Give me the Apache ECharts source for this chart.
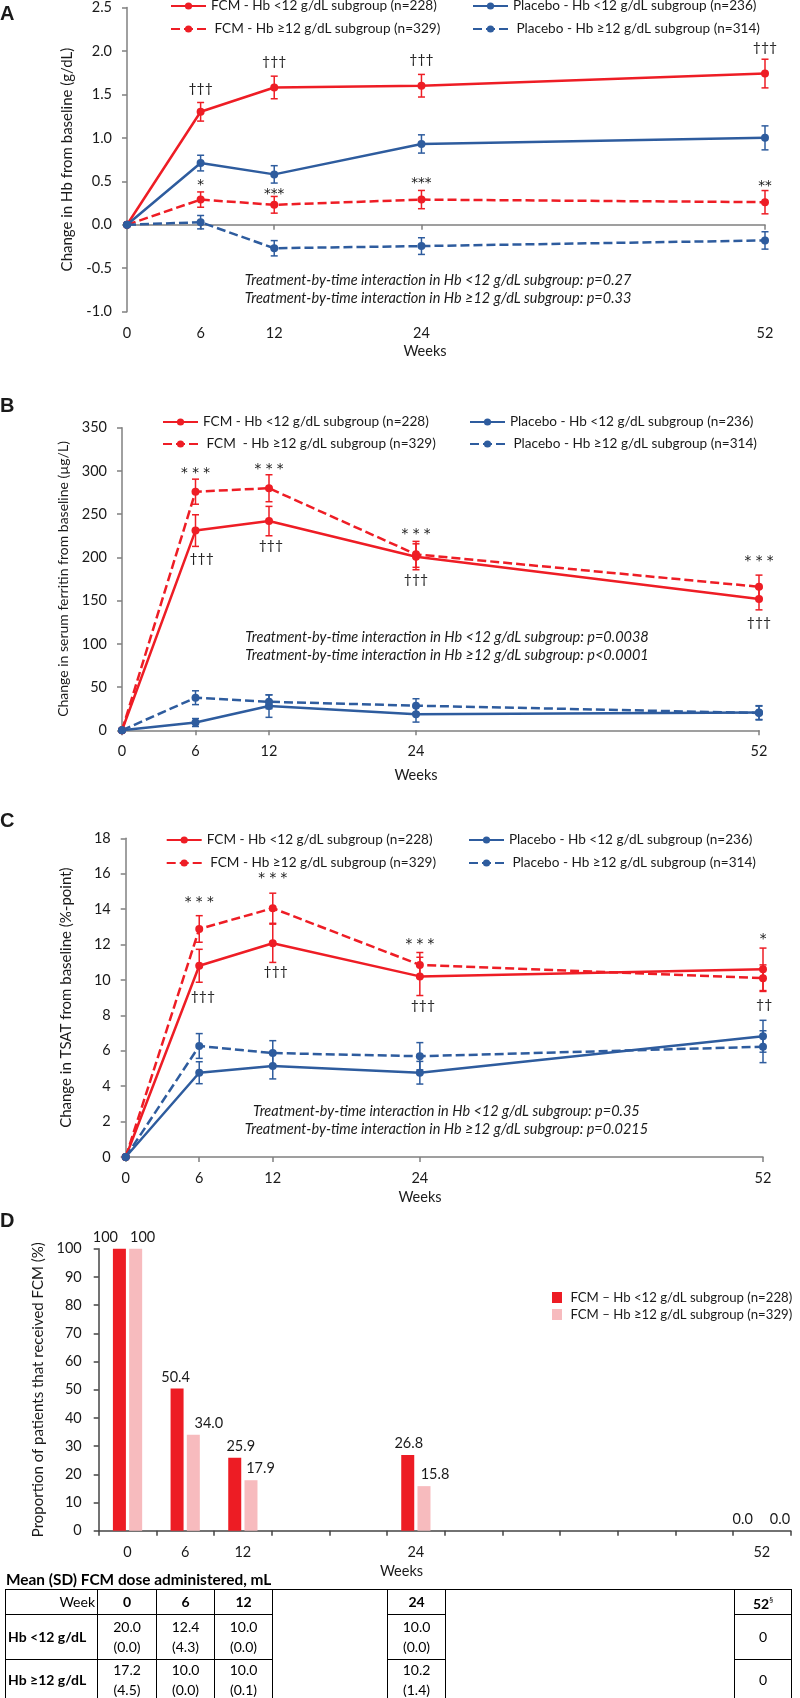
<!DOCTYPE html>
<html><head><meta charset="utf-8">
<script src="https://cdn.jsdelivr.net/npm/echarts@6/dist/echarts.min.js"></script>
<style>
html,body{margin:0;padding:0;background:#fff;}
#wrap{position:relative;width:800px;height:1698px;overflow:hidden;}
#chart{position:absolute;left:0;top:0;width:800px;height:1698px;}
#dosetitle{position:absolute;left:6px;top:1570px;font-weight:bold;font-family:Lato;font-size:14.5px;color:#000;white-space:nowrap;}
#tbl{position:absolute;left:5px;top:1589px;border-collapse:collapse;table-layout:fixed;font-family:Lato;font-size:14px;color:#000;}
#tbl td{border:1.5px solid #000;text-align:center;padding:0;line-height:20px;vertical-align:middle;}
#tbl td.b{font-weight:bold;}
#tbl td.r{text-align:right;padding-right:2px;}
#tbl td.l{text-align:left;padding-left:2px;font-weight:bold;}
#tbl sup{font-size:8px;font-weight:normal;vertical-align:super;}
</style></head><body>
<div id="wrap"><div id="chart"></div>
<div id="dosetitle">Mean (SD) FCM dose administered, mL</div>
<table id="tbl"></table></div>
<script>
// ---------- data ----------
const weeks = [0, 6, 12, 24, 52];

// Panel A: change in Hb (g/dL)
const A_fcmLow   = [0, 1.30, 1.58, 1.60, 1.74];
const A_fcmLowE  = [0, 0.107, 0.13, 0.13, 0.165];
const A_fcmHigh  = [0, 0.29, 0.23, 0.29, 0.26];
const A_fcmHighE = [0, 0.088, 0.096, 0.105, 0.134];
const A_pboLow   = [0, 0.71, 0.58, 0.93, 1.00];
const A_pboLowE  = [0, 0.09, 0.10, 0.105, 0.138];
const A_pboHigh  = [0, 0.03, -0.27, -0.245, -0.18];
const A_pboHighE = [0, 0.077, 0.088, 0.096, 0.10];

// Panel B: change in serum ferritin (µg/L)
const B_fcmLow   = [0, 231, 242, 200.7, 152];
const B_fcmLowE  = [0, 18.3, 17, 15, 12.7];
const B_fcmHigh  = [0, 276, 280, 203.5, 166];
const B_fcmHighE = [0, 14.5, 15.6, 15, 13.5];
const B_pboLow   = [0, 9, 28, 18.5, 20.5];
const B_pboLowE  = [0, 4.6, 13, 9, 8];
const B_pboHigh  = [0, 37.7, 33, 28.5, 20];
const B_pboHighE = [0, 8, 8, 8, 8];

// Panel C: change in TSAT (%-point)
const C_fcmLow   = [0, 10.8, 12.07, 10.2, 10.6];
const C_fcmLowE  = [0, 0.93, 1.08, 1.08, 1.2];
const C_fcmHigh  = [0, 12.88, 14.05, 10.85, 10.1];
const C_fcmHighE = [0, 0.75, 0.85, 0.7, 0.75];
const C_pboLow   = [0, 4.76, 5.14, 4.76, 6.82];
const C_pboLowE  = [0, 0.62, 0.73, 0.64, 0.9];
const C_pboHigh  = [0, 6.27, 5.87, 5.69, 6.23];
const C_pboHighE = [0, 0.7, 0.7, 0.77, 0.9];

// significance marks: [week, y position (data units), text]
const sigA = [[6,1.565,'†††'],[12,1.876,'†††'],[24,1.90,'†††'],[52,2.04,'†††'],
              [6,0.45,'*'],[12,0.345,'***'],[24,0.48,'***'],[52,0.44,'**']];
const sigB = [[6,297.5,'* * *'],[12,302,'* * *'],[24,227,'* * *'],[52,195,'* * *'],
              [6.5,199.2,'†††'],[12.15,214,'†††'],[24,175,'†††'],[52,124.4,'†††']];
const sigC = [[6,14.4,'* * *'],[12,15.72,'* * *'],[24,12.03,'* * *'],[52,12.28,'*'],
              [6.3,9.06,'†††'],[12.24,10.47,'†††'],[24.25,8.53,'†††'],[52.1,8.63,'††']];

// Panel D: proportion receiving FCM (%)
const dCats = ['0','6','12','','','24','','','','','','52'];
const D_low  = [100, 50.4, 25.9, null, null, 26.8, null, null, null, null, null, 0.0];
const D_high = [100, 34.0, 17.9, null, null, 15.8, null, null, null, null, null, 0.0];

// Table: Mean (SD) FCM dose administered, mL
const tableWeeks = ['0','6','12','24','52'];
const doseLow  = [['20.0','(0.0)'],['12.4','(4.3)'],['10.0','(0.0)'],['10.0','(0.0)'],['0']];
const doseHigh = [['17.2','(4.5)'],['10.0','(0.0)'],['10.0','(0.1)'],['10.2','(1.4)'],['0']];

// ---------- styles ----------
const RED = '#EE1D25', BLUE = '#2E5C9E', BARRED = '#ED1C24', PINK = '#F7BBBE';
const AXIS = '#808080', DAXIS = '#444444', TXT = '#1a1a1a';
const FONT = 'Lato';
const DASH = [9, 4];

// font size fitted so that a reference string gets the width seen in the original
const _ctx = document.createElement('canvas').getContext('2d');
function fit(text, style, target) {
  _ctx.font = style + ' 20px ' + FONT;
  const w = _ctx.measureText(text).width;
  return w > 0 ? Math.round(200 * target / w) / 10 : 14;
}

const N = {
  fl: 'FCM - Hb <12 g/dL subgroup (n=228)',
  fh: 'FCM - Hb ≥12 g/dL subgroup (n=329)',
  fhB: 'FCM  - Hb ≥12 g/dL subgroup (n=329)',
  pl: 'Placebo - Hb <12 g/dL subgroup (n=236)',
  ph: 'Placebo - Hb ≥12 g/dL subgroup (n=314)',
  dl: 'FCM – Hb <12 g/dL subgroup (n=228)',
  dh: 'FCM – Hb ≥12 g/dL subgroup (n=329)'
};

const LEG_FS = Math.min(15, (fit(N.fl, 'normal', 224) + fit(N.pl, 'normal', 245)) / 2);
const DLEG_FS = Math.min(15, fit(N.dl, 'normal', 222));
const IT_FS = fit('Treatment-by-time interaction in Hb <12 g/dL subgroup: p=0.27', 'italic', 388);

const series = [];

function errRender(color) {
  return function (params, api) {
    const x = api.value(0), y = api.value(1), e = api.value(2);
    const t = api.coord([x, y + e]), b = api.coord([x, y - e]);
    const c = 3.5;
    const st = { stroke: color, lineWidth: 1.5 };
    return { type: 'group', children: [
      { type: 'line', shape: { x1: t[0], y1: t[1], x2: b[0], y2: b[1] }, style: st },
      { type: 'line', shape: { x1: t[0] - c, y1: t[1], x2: t[0] + c, y2: t[1] }, style: st },
      { type: 'line', shape: { x1: b[0] - c, y1: b[1], x2: b[0] + c, y2: b[1] }, style: st }
    ]};
  };
}

function addGroup(xi, yi, name, vals, errs, color, dash) {
  series.push({
    type: 'line', name: name, xAxisIndex: xi, yAxisIndex: yi,
    data: weeks.map((w, i) => [w, vals[i]]),
    symbol: 'circle', symbolSize: 8, z: 3,
    itemStyle: { color: color },
    lineStyle: { color: color, width: 2.5, type: dash },
    emphasis: { disabled: true }, silent: true
  });
  series.push({
    type: 'custom', xAxisIndex: xi, yAxisIndex: yi, z: 2, silent: true,
    renderItem: errRender(color), encode: { x: 0, y: 1 },
    data: weeks.slice(1).map((w, i) => [w, vals[i + 1], errs[i + 1]])
  });
}

function addSig(xi, yi, arr) {
  series.push({
    type: 'custom', xAxisIndex: xi, yAxisIndex: yi, z: 5, silent: true,
    encode: { x: 0, y: 1 },
    data: arr.map(d => [d[0], d[1]]),
    renderItem: function (params, api) {
      const d = arr[params.dataIndex];
      const p = api.coord([d[0], d[1]]);
      const isStar = d[2].indexOf('*') >= 0;
      const font = isStar ? '13.5px "DejaVu Sans"' : '14px ' + FONT;
      return { type: 'text', x: p[0], y: p[1], style: {
        text: d[2], fill: TXT, font: font,
        align: 'center', verticalAlign: 'middle', textAlign: 'center', textVerticalAlign: 'middle' } };
    }
  });
}

// Panel A (x axis 0 = labels, yAxis 0)
addGroup(0, 0, N.fl, A_fcmLow, A_fcmLowE, RED, 'solid');
addGroup(0, 0, N.fh, A_fcmHigh, A_fcmHighE, RED, DASH);
addGroup(0, 0, N.pl, A_pboLow, A_pboLowE, BLUE, 'solid');
addGroup(0, 0, N.ph, A_pboHigh, A_pboHighE, BLUE, DASH);
addSig(0, 0, sigA);
// Panel B
addGroup(2, 1, N.fl, B_fcmLow, B_fcmLowE, RED, 'solid');
addGroup(2, 1, N.fhB, B_fcmHigh, B_fcmHighE, RED, DASH);
addGroup(2, 1, N.pl, B_pboLow, B_pboLowE, BLUE, 'solid');
addGroup(2, 1, N.ph, B_pboHigh, B_pboHighE, BLUE, DASH);
addSig(2, 1, sigB);
// Panel C
addGroup(3, 2, N.fl, C_fcmLow, C_fcmLowE, RED, 'solid');
addGroup(3, 2, N.fh, C_fcmHigh, C_fcmHighE, RED, DASH);
addGroup(3, 2, N.pl, C_pboLow, C_pboLowE, BLUE, 'solid');
addGroup(3, 2, N.ph, C_pboHigh, C_pboHighE, BLUE, DASH);
addSig(3, 2, sigC);

// Panel D bars
const lowShift  = [-14, -1.5, 6, 0, 0, 1, 0, 0, 0, 0, 0, -11];
const highShift = [7, 15.5, 9.5, 0, 0, 11, 0, 0, 0, 0, 0, 10];
const barLabel = { show: true, position: 'top', distance: 4, fontSize: 14.5, fontFamily: FONT, color: TXT,
  formatter: p => (p.value === 100 ? '100' : Number(p.value).toFixed(1)) };
series.push({
  type: 'bar', name: N.dl, xAxisIndex: 4, yAxisIndex: 3, barWidth: 13, barGap: '25%',
  itemStyle: { color: BARRED }, label: barLabel, silent: true,
  data: D_low.map((v, i) => v == null ? null : { value: v, label: { offset: [lowShift[i], 0] } })
});
series.push({
  type: 'bar', name: N.dh, xAxisIndex: 4, yAxisIndex: 3, barWidth: 13, barGap: '25%',
  itemStyle: { color: PINK }, label: barLabel, silent: true,
  data: D_high.map((v, i) => v == null ? null : { value: v, label: { offset: [highShift[i], 0] } })
});

// ---------- axes ----------
const lbl = { fontSize: 14.5, fontFamily: FONT, color: TXT };
function yAx(grid, min, max, interval, name, nameLen, fmt, color, margin) {
  const fs = Math.min(15, fit(name, 'normal', nameLen));
  return {
    type: 'value', gridIndex: grid, min: min, max: max, interval: interval,
    name: name, nameLocation: 'middle', nameGap: 61 - fs * 0.6 + (grid === 3 ? 1 : 0) - (grid === 1 ? 2.5 : 0),
    nameTextStyle: { fontSize: fs, fontFamily: FONT, color: TXT },
    axisLine: { show: true, lineStyle: { color: color, width: 1.5 } },
    axisTick: { show: true, length: 5, lineStyle: { color: color, width: 1.5 } },
    axisLabel: Object.assign({ margin: margin, formatter: fmt }, lbl),
    splitLine: { show: false }
  };
}
function xVal(grid, extra) {
  return Object.assign({
    type: 'value', gridIndex: grid, min: 0, max: 52,
    axisLine: { show: true, onZero: false, lineStyle: { color: AXIS, width: 1.5 } },
    axisTick: { show: true, length: 5, customValues: weeks, lineStyle: { color: AXIS, width: 1.5 } },
    axisLabel: Object.assign({ margin: 14, customValues: weeks }, lbl),
    splitLine: { show: false }
  }, extra || {});
}

const xAxis = [
  xVal(0, { position: 'bottom', axisLine: { show: false, onZero: false }, axisTick: { show: false } }),
  xVal(0, { position: 'top',
    axisLine: { show: true, onZero: true, lineStyle: { color: AXIS, width: 1.5 } },
    axisTick: { show: true, inside: true, length: 5, customValues: weeks, lineStyle: { color: AXIS, width: 1.5 } },
    axisLabel: { show: false } }),
  xVal(1, { position: 'bottom' }),
  xVal(2, { position: 'bottom' }),
  { type: 'category', gridIndex: 3, data: dCats, boundaryGap: true, position: 'bottom',
    axisLine: { show: true, lineStyle: { color: DAXIS, width: 1.5 } },
    axisTick: { show: true, interval: 0, alignWithLabel: false, length: 5, lineStyle: { color: DAXIS, width: 1.5 } },
    axisLabel: Object.assign({ interval: 0, margin: 14 }, lbl),
    splitLine: { show: false } }
];

const yAxis = [
  yAx(0, -1, 2.5, 0.5, 'Change in Hb from baseline (g/dL)', 226, v => v.toFixed(1), AXIS, 15),
  yAx(1, 0, 350, 50, 'Change in serum ferritin from baseline (µg/L)', 275, v => String(v), AXIS, 15),
  yAx(2, 0, 18, 2, 'Change in TSAT from baseline (%-point)', 262, v => String(v), AXIS, 15),
  yAx(3, 0, 100, 10, 'Proportion of patients that received FCM (%)', 298, v => String(v), DAXIS, 17)
];

const grid = [
  { left: 127, top: 7.3, width: 638, height: 304.4 },
  { left: 122, top: 427.7, width: 637, height: 302.6 },
  { left: 125.7, top: 838.3, width: 637.3, height: 318.7 },
  { left: 98.7, top: 1248.7, width: 692, height: 282 }
];

// ---------- legends ----------
function lg(name, left, cy, fmt) {
  return { data: [name], left: left, top: cy - 8, padding: 0, itemWidth: 35, itemHeight: 9,
    selectedMode: false, formatter: fmt || '{name}',
    textStyle: { fontFamily: FONT, fontSize: LEG_FS, color: TXT, overflow: 'none' } };
}
const sp = ' {name}';
const legend = [
  lg(N.fl, 170, 7), lg(N.fh, 170, 30, sp), lg(N.pl, 472, 7), lg(N.ph, 472, 30, sp),
  lg(N.fl, 162, 423), lg(N.fhB, 162, 445, sp), lg(N.pl, 469, 423), lg(N.ph, 469, 445, sp),
  lg(N.fl, 165.7, 841), lg(N.fh, 165.7, 864, sp), lg(N.pl, 468, 841), lg(N.ph, 468, 864, sp),
  { data: [N.dl, N.dh], orient: 'vertical', left: 552, top: 1291, padding: 0, itemWidth: 10, itemHeight: 11,
    itemGap: 4, icon: 'rect', selectedMode: false, formatter: ' {name}',
    textStyle: { fontFamily: FONT, fontSize: DLEG_FS, color: TXT, overflow: 'none' } }
];

// ---------- free texts ----------
function txt(x, y, text, font, align) {
  return { type: 'text', x: x, y: y, silent: true, style: { text: text, font: font, fill: TXT,
    align: align || 'center', verticalAlign: 'middle', textAlign: align || 'center', textVerticalAlign: 'middle' } };
}
const IT = 'italic ' + IT_FS + 'px ' + FONT;
const PL = 'bold 20px "Liberation Sans", Arial, sans-serif';
const WK = '14.5px ' + FONT;
const graphic = [
  txt(0, 14, 'A', PL, 'left'), txt(0, 406.5, 'B', PL, 'left'), txt(0, 821.7, 'C', PL, 'left'), txt(0, 1221, 'D', PL, 'left'),
  txt(425, 351.7, 'Weeks', WK), txt(416, 775, 'Weeks', WK), txt(420, 1197, 'Weeks', WK), txt(401.5, 1571.7, 'Weeks', WK),
  txt(438, 280, 'Treatment-by-time interaction in Hb <12 g/dL subgroup: p=0.27', IT),
  txt(438, 298, 'Treatment-by-time interaction in Hb ≥12 g/dL subgroup: p=0.33', IT),
  txt(447, 637.3, 'Treatment-by-time interaction in Hb <12 g/dL subgroup: p=0.0038', IT),
  txt(447, 655.7, 'Treatment-by-time interaction in Hb ≥12 g/dL subgroup: p<0.0001', IT),
  txt(446.4, 1111, 'Treatment-by-time interaction in Hb <12 g/dL subgroup: p=0.35', IT),
  txt(446.4, 1129, 'Treatment-by-time interaction in Hb ≥12 g/dL subgroup: p=0.0215', IT)
];

const chart = echarts.init(document.getElementById('chart'), null, { renderer: 'canvas' });
chart.setOption({
  animation: false,
  textStyle: { fontFamily: FONT },
  grid: grid, xAxis: xAxis, yAxis: yAxis, legend: legend, series: series, graphic: graphic
});

// ---------- table ----------
(function () {
  const tfs = Math.min(16, fit('Mean (SD) FCM dose administered, mL', 'bold', 265));
  document.getElementById('dosetitle').style.fontSize = tfs + 'px';
  const widths = [92, 59, 58, 58, 115, 58, 289, 57];
  const heights = [21, 45, 42];
  let h = '<colgroup>' + widths.map(w => '<col style="width:' + w + 'px">').join('') + '</colgroup>';
  const cell = c => c.join('<br>');
  h += '<tr style="height:' + heights[0] + 'px"><td class="r">Week</td>' +
    '<td class="b">' + tableWeeks[0] + '</td><td class="b">' + tableWeeks[1] + '</td><td class="b">' + tableWeeks[2] + '</td>' +
    '<td rowspan="3"></td><td class="b">' + tableWeeks[3] + '</td><td rowspan="3"></td>' +
    '<td class="b">' + tableWeeks[4] + '<sup>§</sup></td></tr>';
  [['Hb &lt;12 g/dL', doseLow], ['Hb ≥12 g/dL', doseHigh]].forEach((r, k) => {
    const d = r[1];
    h += '<tr style="height:' + heights[k + 1] + 'px"><td class="l">' + r[0] + '</td>' +
      '<td>' + cell(d[0]) + '</td><td>' + cell(d[1]) + '</td><td>' + cell(d[2]) + '</td>' +
      '<td>' + cell(d[3]) + '</td><td>' + cell(d[4]) + '</td></tr>';
  });
  document.getElementById('tbl').innerHTML = h;
})();
</script>
</body></html>
